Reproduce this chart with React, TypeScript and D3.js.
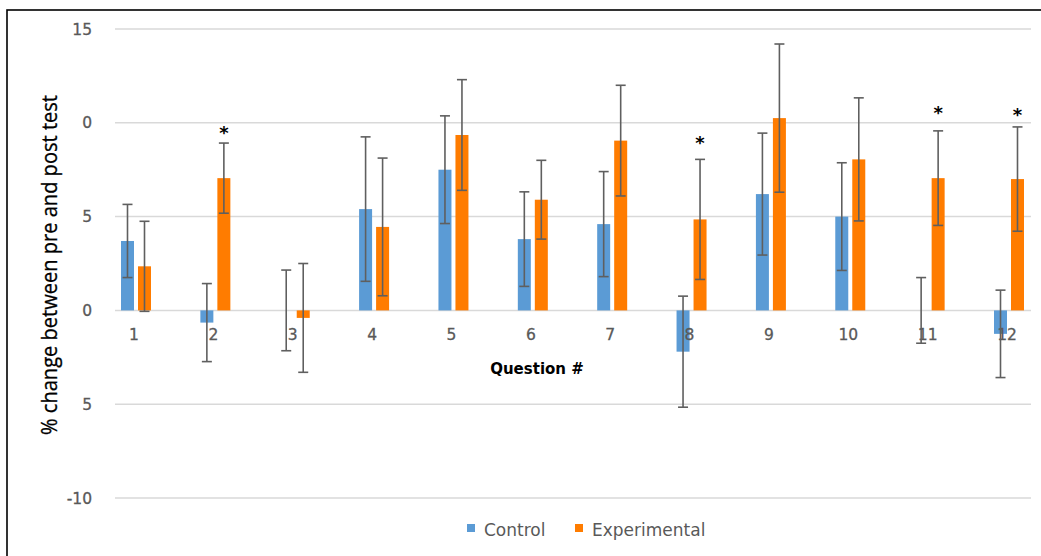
import React from "react";
import * as d3 from "d3";

const categories = ["1", "2", "3", "4", "5", "6", "7", "8", "9", "10", "11", "12"];
const controlValues = [3.7, -0.65, 0, 5.4, 7.5, 3.8, 4.6, -2.2, 6.2, 5.0, 0, -1.25];
const controlErrors = [1.95, 2.08, 2.15, 3.85, 2.87, 2.52, 2.8, 2.96, 3.25, 2.87, 1.75, 2.33];
const experimentalValues = [2.35, 7.05, -0.4, 4.45, 9.35, 5.9, 9.05, 4.85, 10.25, 8.05, 7.05, 7.0];
const experimentalErrors = [2.4, 1.87, 2.9, 3.67, 2.95, 2.1, 2.95, 3.2, 3.95, 3.28, 2.52, 2.78];
const starQuestions = ["2", "8", "11", "12"];
const starValues = [9.6, 9.1, 10.7, 10.6];
const yTickValues = [15, 10, 5, 0, -5, -10];
const yTickLabels = ["15", "0", "5", "0", "5", "-10"];
const seriesNames = ["Control", "Experimental"];
const seriesColors = ["#5B9BD5", "#FF7C00"];

export default function App() {
  const W = 1041;
  const H = 556;
  const y = d3.scaleLinear().domain([-10, 15]).range([498, 29]);
  const x = d3.scalePoint<string>().domain(categories).range([136, 1009]);
  const barW = 13;
  const errColor = "#5f5f5f";
  const tickFont = "'DejaVu Sans', Verdana, sans-serif";

  const series = [
    { vals: controlValues, errs: controlErrors, off: -8.5, color: seriesColors[0] },
    { vals: experimentalValues, errs: experimentalErrors, off: 8.5, color: seriesColors[1] },
  ];

  return (
    <svg
      width={W}
      height={H}
      style={{ position: "absolute", left: 0, top: 0, background: "#fff" }}
    >
      {/* frame */}
      <rect x={7} y={10} width={1060} height={600} fill="none" stroke="#000" strokeWidth={1.6} />

      {/* gridlines */}
      {yTickValues.map((v) => (
        <line key={"g" + v} x1={115} x2={1031} y1={y(v)} y2={y(v)} stroke="#d9d9d9" strokeWidth={1.5} />
      ))}

      {/* y tick labels */}
      {yTickValues.map((v, i) => (
        <text
          key={"yt" + v}
          x={92}
          y={y(v) + 5.5}
          textAnchor="end"
          fontFamily={tickFont}
          fontSize={15.5}
          fill="#595959"
          stroke="#595959"
          strokeWidth={0.3}
        >
          {yTickLabels[i]}
        </text>
      ))}

      {/* bars */}
      {series.map((s, si) =>
        categories.map((c, i) => {
          const cx = (x(c) as number) + s.off;
          const v = s.vals[i];
          const y0 = y(0);
          const yv = y(v);
          return (
            <rect
              key={"b" + si + c}
              x={cx - barW / 2}
              y={Math.min(y0, yv)}
              width={barW}
              height={Math.abs(yv - y0)}
              fill={s.color}
            />
          );
        })
      )}

      {/* x tick labels */}
      {categories.map((c) => (
        <text
          key={"xt" + c}
          x={(x(c) as number) - 2}
          y={340}
          textAnchor="middle"
          fontFamily={tickFont}
          fontSize={15.5}
          fill="#595959"
          stroke="#595959"
          strokeWidth={0.3}
        >
          {c}
        </text>
      ))}

      {/* error bars */}
      {series.map((s, si) =>
        categories.map((c, i) => {
          const cx = (x(c) as number) + s.off;
          const hi = y(s.vals[i] + s.errs[i]);
          const lo = y(s.vals[i] - s.errs[i]);
          return (
            <g key={"e" + si + c} stroke={errColor} strokeWidth={1.6}>
              <line x1={cx} x2={cx} y1={hi} y2={lo} />
              <line x1={cx - 5} x2={cx + 5} y1={hi} y2={hi} />
              <line x1={cx - 5} x2={cx + 5} y1={lo} y2={lo} />
            </g>
          );
        })
      )}

      {/* significance stars */}
      {starQuestions.map((q, i) => (
        <text
          key={"s" + q}
          x={(x(q) as number) + 8.5}
          y={y(starValues[i]) + 9}
          textAnchor="middle"
          fontFamily="'DejaVu Sans', sans-serif"
          fontWeight="bold"
          fontSize={18}
          fill="#000"
        >
          *
        </text>
      ))}

      {/* axis titles */}
      <text
        x={537}
        y={374}
        textAnchor="middle"
        fontFamily="'DejaVu Sans', sans-serif"
        fontWeight="bold"
        fontSize={15}
        fill="#000"
      >
        Question #
      </text>
      <text
        transform="translate(57,265) rotate(-90)"
        textAnchor="middle"
        fontFamily="'Liberation Sans Narrow', 'Open Sans', sans-serif"
        fontSize={22}
        textLength={340}
        lengthAdjust="spacingAndGlyphs"
        fill="#000"
        stroke="#000"
        strokeWidth={0.3}
      >
        % change between pre and post test
      </text>

      {/* legend */}
      {seriesNames.map((n, i) => {
        const lx = [467, 575][i];
        return (
          <g key={"l" + n}>
            <rect x={lx} y={524} width={8} height={8} fill={seriesColors[i]} />
            <text
              x={lx + 17}
              y={536}
              fontFamily={tickFont}
              fontSize={17}
              fill="#595959"
            >
              {n}
            </text>
          </g>
        );
      })}
    </svg>
  );
}
